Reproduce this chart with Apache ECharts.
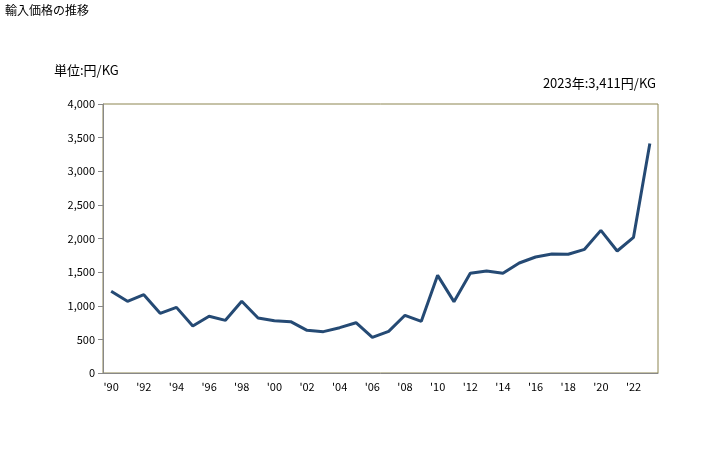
<!DOCTYPE html>
<html><head><meta charset="utf-8">
<script src="https://cdn.jsdelivr.net/npm/echarts@6/dist/echarts.min.js"></script>
<style>html,body{margin:0;padding:0;background:#fff}#c{width:728px;height:450px}</style>
</head><body><div id="c"></div>
<script>
const years = ['1990','1991','1992','1993','1994','1995','1996','1997','1998','1999','2000','2001','2002','2003','2004','2005','2006','2007','2008','2009','2010','2011','2012','2013','2014','2015','2016','2017','2018','2019','2020','2021','2022','2023'];
const prices = [1215,1066,1165,887,976,699,843,783,1066,818,778,763,634,615,674,748,530,620,858,768,1452,1061,1482,1517,1482,1636,1725,1770,1765,1839,2121,1814,2017,3411];
const titleText = '輸入価格の推移';
const unitText = '単位:円/KG';
const noteText = '2023年:3,411円/KG';
const FONT = '"Noto Sans CJK JP", sans-serif';
const chart = echarts.init(document.getElementById('c'));
chart.setOption({
  animation: false,
  backgroundColor: '#fff',
  textStyle: {fontFamily: FONT},
  graphic: [
    {type:'text', left: 5, top: 4, style:{text:titleText, fontSize:12, fill:'#000', fontFamily:FONT}},
    {type:'text', left: 54, top: 64, style:{text:unitText, fontSize:13, fill:'#000', fontFamily:FONT}},
    {type:'text', right: 72, top: 77, style:{text:noteText, fontSize:13, fill:'#000', fontFamily:FONT}}
  ],
  grid: {left: 103, right: 70, top: 104, bottom: 77, show: true, borderColor: '#8c8550', borderWidth: 1, backgroundColor: 'transparent'},
  xAxis: {
    type: 'category', data: years, boundaryGap: true,
    axisLine: {show: true, lineStyle: {color: '#888', width: 1}},
    axisTick: {show: false},
    axisLabel: {interval: 1, color: '#000', fontSize: 11, fontFamily: FONT, margin: 8,
      formatter: v => "'" + v.slice(2)}
  },
  yAxis: {
    type: 'value', min: 0, max: 4000, interval: 500,
    axisLine: {show: true, lineStyle: {color: '#888', width: 1}},
    axisTick: {show: true, length: 5, lineStyle: {color: '#888'}},
    splitLine: {show: false},
    axisLabel: {color: '#000', fontSize: 11, fontFamily: FONT, margin: 8,
      formatter: v => v.toLocaleString('en-US')}
  },
  series: [{
    type: 'line', data: prices, symbol: 'none',
    lineStyle: {color: '#254a74', width: 3}
  }]
});
</script></body></html>
